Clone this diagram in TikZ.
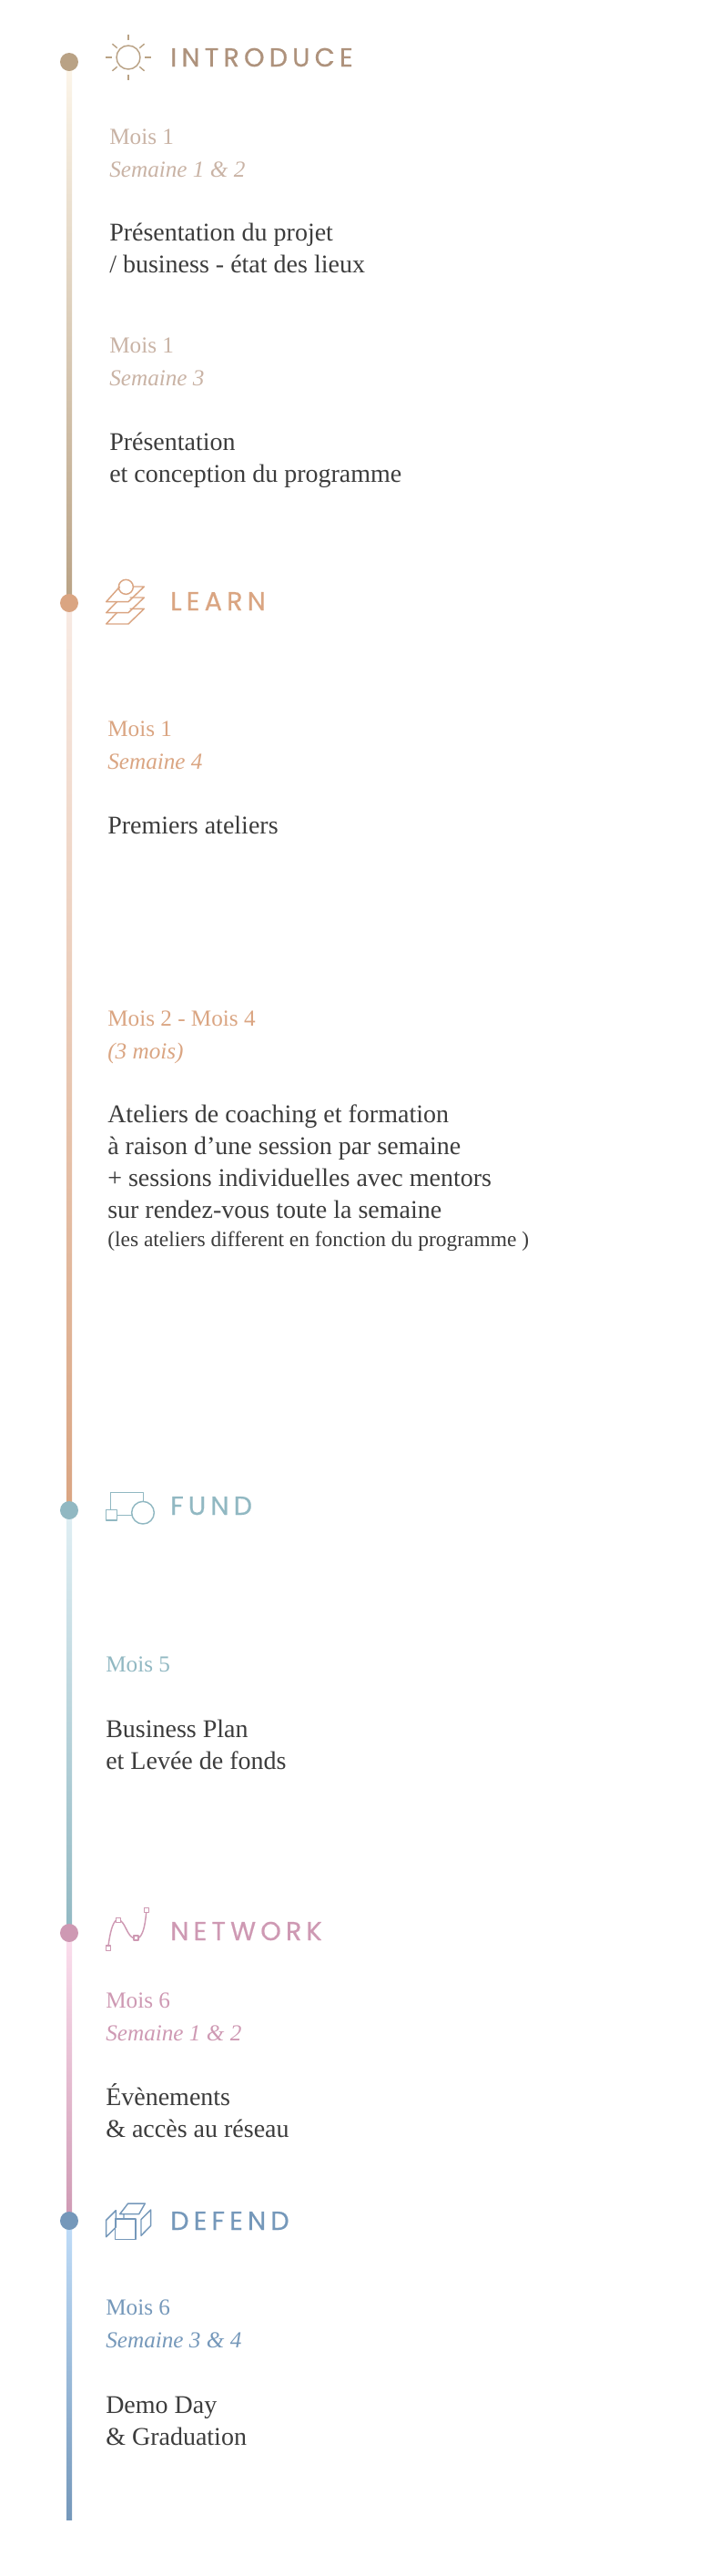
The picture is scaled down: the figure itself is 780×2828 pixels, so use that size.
\documentclass[tikz,border=0pt]{standalone}
\usepackage{fontspec}
\setmainfont{Liberation Serif}
\newfontfamily\headfont[LetterSpace=18, FakeBold=0.5]{Poppins}
\usetikzlibrary{calc, backgrounds}
\definecolor{bodygrey}{HTML}{3C3C3C}
\definecolor{introdot}{HTML}{B9A285}
\definecolor{introhead}{HTML}{AE927C}
\definecolor{introdate}{HTML}{C9B3A5}
\definecolor{introfade}{HTML}{FDF6EA}
\definecolor{learncol}{HTML}{DAA582}
\definecolor{learnfade}{HTML}{F8EAE3}
\definecolor{fundcol}{HTML}{91B8C2}
\definecolor{fundfade}{HTML}{E0EFF4}
\definecolor{netcol}{HTML}{CE99B3}
\definecolor{netfade}{HTML}{FCDFEE}
\definecolor{defcol}{HTML}{7598BA}
\definecolor{deffade}{HTML}{C0DDF9}
\tikzset{
  stagedot/.style={circle, fill=#1, minimum size=15pt, inner sep=0pt},
  stagehead/.style={anchor=base west, inner sep=0pt, text=#1, font=\headfont\fontsize{21.5}{24}\selectfont},
  datetext/.style={anchor=base west, inner sep=0pt, text=#1, align=left, font=\fontsize{18.9}{27}\selectfont},
  bodytext/.style={anchor=base west, inner sep=0pt, text=bodygrey, align=left, font=\fontsize{21}{26.25}\selectfont},
  iconline/.style={draw=#1, line width=1.1pt, line join=round},
  zoomgrid/.style={shift={#1}, x=0.25pt, y=-0.25pt}
}
\begin{document}
\begin{tikzpicture}[x=0.75pt, y=-0.75pt]
  \useasboundingbox (0,0) rectangle (780,2828);

  % stages along the line
  \node[stagedot=introdot] (dotIntro) at (76,68) {};
  \node[stagedot=learncol] (dotLearn) at (76,662) {};
  \node[stagedot=fundcol] (dotFund) at (76,1658) {};
  \node[stagedot=netcol] (dotNet) at (76,2122) {};
  \node[stagedot=defcol] (dotDef) at (76,2438) {};
  \coordinate (lineEnd) at (76,2766);

  \begin{scope}[on background layer]
    \shade[top color=introfade, bottom color=introdot]
      ($(dotIntro)+(-3,0)$) rectangle ($(dotLearn)+(3,0)$);
    \shade[top color=learnfade, bottom color=learncol]
      ($(dotLearn)+(-3,0)$) rectangle ($(dotFund)+(3,0)$);
    \shade[top color=fundfade, bottom color=fundcol]
      ($(dotFund)+(-3,0)$) rectangle ($(dotNet)+(3,0)$);
    \shade[top color=netfade, bottom color=netcol]
      ($(dotNet)+(-3,0)$) rectangle ($(dotDef)+(3,0)$);
    \shade[top color=deffade, bottom color=defcol]
      ($(dotDef)+(-3,0)$) rectangle ($(lineEnd)+(3,0)$);
  \end{scope}

  % headings
  \node[stagehead=introhead] (headIntro) at (187,73) {INTRODUCE};
  \node[stagehead=learncol] (headLearn) at (187,670) {LEARN};
  \node[stagehead=fundcol] (headFund) at (187,1663) {FUND};
  \node[stagehead=netcol] (headNet) at (187,2130) {NETWORK};
  \node[stagehead=defcol] (headDef) at (187,2448) {DEFEND};

  % introduce
  \node[datetext=introdate] (dateIntroA) at (120,194) {Mois 1\\\textit{Semaine 1 \& 2}};
  \node[bodytext] (bodyIntroA) at (120,299) {Présentation du projet\\/ business - état des lieux};
  \node[datetext=introdate] (dateIntroB) at (120,423) {Mois 1\\\textit{Semaine 3}};
  \node[bodytext] (bodyIntroB) at (120,529) {Présentation\\et conception du programme};

  % learn
  \node[datetext=learncol] (dateLearnA) at (118,844) {Mois 1\\\textit{Semaine 4}};
  \node[bodytext] (bodyLearnA) at (118,915) {Premiers ateliers};
  \node[datetext=learncol] (dateLearnB) at (118,1162) {Mois 2 - Mois 4\\\textit{(3 mois)}};
  \node[bodytext] (bodyLearnB) at (118,1337) {Ateliers de coaching et formation\\à raison d’une session par semaine\\+ sessions individuelles avec mentors\\sur rendez-vous toute la semaine};
  \node[anchor=base west, inner sep=0pt, text=bodygrey, font=\fontsize{17.6}{20}\selectfont] (noteLearnB) at (118,1368) {(les ateliers different en fonction du programme )};

  % fund
  \node[datetext=fundcol] (dateFund) at (116,1835) {Mois 5};
  \node[bodytext] (bodyFund) at (116,1942) {Business Plan\\et Levée de fonds};

  % network
  \node[datetext=netcol] (dateNet) at (116,2240) {Mois 6\\\textit{Semaine 1 \& 2}};
  \node[bodytext] (bodyNet) at (116,2346) {Évènements\\\& accès au réseau};

  % defend
  \node[datetext=defcol] (dateDef) at (116,2577) {Mois 6\\\textit{Semaine 3 \& 4}};
  \node[bodytext] (bodyDef) at (116,2684) {Demo Day\\\& Graduation};

  % icons
  \begin{scope}[shift={(141,63)}]
    \draw[iconline=introdot] (0,0) circle (13);
    \foreach \ang/\rin/\rout in {0/18/25, 90/19/25, 180/18/25, 270/19/25,
                                 40/16/23, 140/16/23, 220/16/23, 320/16/23}
      \draw[iconline=introdot] (\ang:\rin) -- (\ang:\rout);
  \end{scope}

  \begin{scope}[zoomgrid={(40,620)}]
    \draw[iconline=learncol] (265,158) -- (230,195) -- (303,195) -- (355,145) -- (308,145);
    \draw[iconline=learncol] (265,122) -- (230,158) -- (303,158) -- (355,108) -- (308,108);
    \draw[iconline=learncol] (275,72) -- (230,122) -- (303,122) -- (355,72) -- (320,72);
    \draw[iconline=learncol] (295,73) circle (24);
  \end{scope}

  \begin{scope}[zoomgrid={(40,1620)}]
    \draw[iconline=fundcol] (245,113) -- (245,55) -- (353,55) -- (353,85);
    \draw[iconline=fundcol] (230,113) rectangle (265,147);
    \draw[iconline=fundcol] (265,130) -- (314,130);
    \draw[iconline=fundcol] (351,122) circle (37);
  \end{scope}

  \begin{scope}[zoomgrid={(40,2090)}]
    \draw[iconline=netcol] (237,138) .. controls (243,95) and (250,65) .. (263,54);
    \draw[iconline=netcol] (278,56) .. controls (295,70) and (300,105) .. (320,113);
    \draw[iconline=netcol] (336,113) .. controls (350,105) and (358,75) .. (362,29);
    \draw[iconline=netcol] (229,138) rectangle (245,154);
    \draw[iconline=netcol] (263,47) rectangle (278,62);
    \draw[iconline=netcol] (321,105) rectangle (336,120);
    \draw[iconline=netcol] (355,14) rectangle (370,29);
  \end{scope}

  \begin{scope}[zoomgrid={(40,2400)}]
    \draw[iconline=defcol] (260,108) rectangle (327,175);
    \draw[iconline=defcol] (288,108) -- (288,92) -- (275,92) -- (302,57) -- (358,57) -- (338,92) -- (288,92);
    \draw[iconline=defcol] (230,112) -- (262,80) -- (262,135) -- (230,167) -- cycle;
    \draw[iconline=defcol] (345,110) -- (377,78) -- (377,130) -- (345,163) -- cycle;
  \end{scope}
\end{tikzpicture}
\end{document}
